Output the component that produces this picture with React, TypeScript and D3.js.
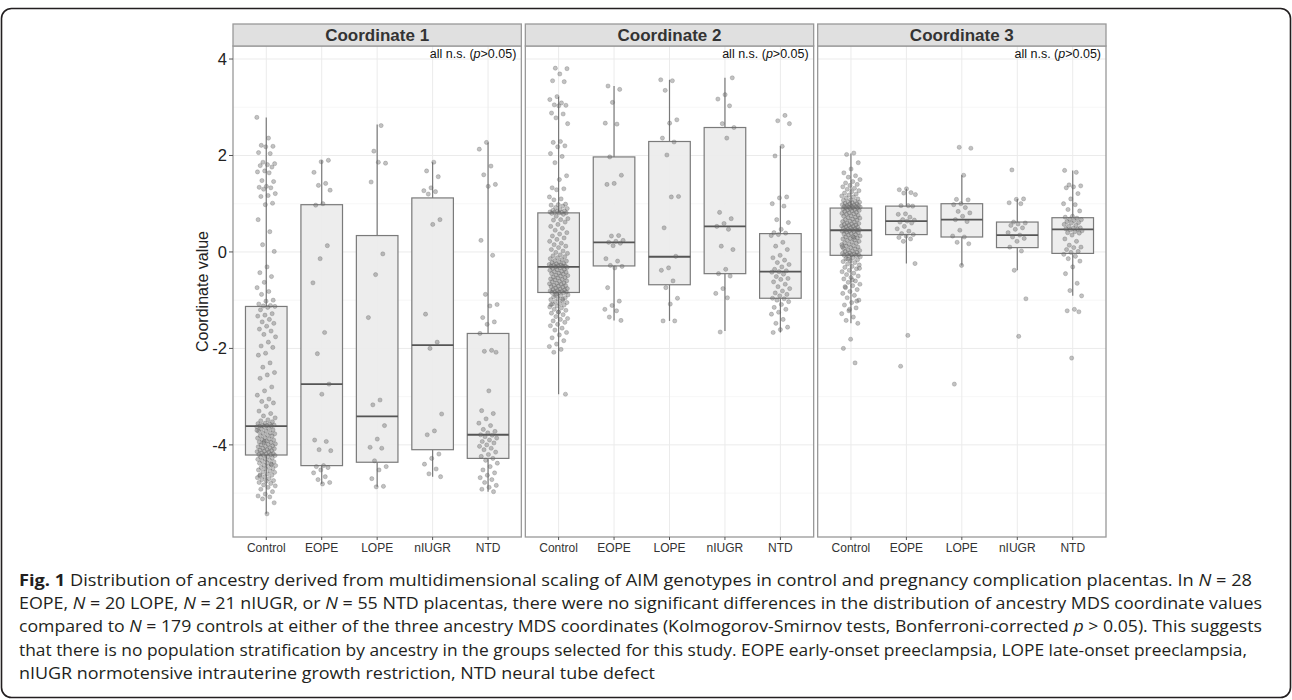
import React from "react";
import * as d3 from "d3";

const W = 1292;
const H = 700;

const coords = ["Coordinate 1", "Coordinate 2", "Coordinate 3"];
const groups = ["Control", "EOPE", "LOPE", "nIUGR", "NTD"];
const yTicks = [-4, -2, 0, 2, 4];
const yMinor = [-5, -3, -1, 1, 3];
const annotation = "all n.s. (";

// box stats per group: [lower whisker, q1, median, q3, upper whisker]
const boxC1 = [
  [-5.43, -4.21, -3.61, -1.13, 2.79],
  [-4.81, -4.43, -2.74, 0.98, 1.9],
  [-4.87, -4.36, -3.41, 0.34, 2.64],
  [-4.66, -4.1, -1.93, 1.12, 1.86],
  [-4.97, -4.28, -3.79, -1.69, 2.27],
];
const boxC2 = [
  [-2.95, -0.84, -0.31, 0.81, 3.22],
  [-1.42, -0.29, 0.2, 1.97, 3.44],
  [-1.43, -0.68, -0.1, 2.29, 3.57],
  [-1.64, -0.45, 0.53, 2.58, 3.61],
  [-1.67, -0.96, -0.41, 0.38, 2.19],
];
const boxC3 = [
  [-1.48, -0.07, 0.45, 0.91, 2.04],
  [-0.24, 0.36, 0.64, 0.95, 1.31],
  [-0.28, 0.31, 0.67, 1.0, 1.59],
  [-0.38, 0.09, 0.35, 0.62, 1.1],
  [-0.91, -0.03, 0.47, 0.71, 1.69],
];

// individual values (jittered points)
const c1Control = [
  2.79, 2.36, 2.21, 2.19, 2.18, 2.06, 2.04, 1.86, 1.83, 1.81, 1.79, 1.76, 1.68, 1.66, 1.64, 1.48, 1.46, 1.36, 1.34, 1.33,
  1.3, 1.21, 1.17, 1.15, 1.01, 0.98, 0.67, 0.42, 0.15, 0.01, -0.31, -0.43, -0.51, -0.63, -0.74, -0.82, -0.88, -1.0, -1.02,
  -1.08, -1.11, -1.12, -1.13, -1.15, -1.2, -1.28, -1.31, -1.33, -1.4, -1.45, -1.48, -1.54, -1.6, -1.64, -1.71, -1.76, -1.87,
  -1.95, -1.98, -2.1, -2.14, -2.3, -2.39, -2.5, -2.55, -2.62, -2.8, -2.88, -2.97, -3.05, -3.1, -3.13, -3.2, -3.3, -3.35,
  -3.4, -3.44, -3.48, -3.5, -3.52, -3.55, -3.56, -3.57, -3.59, -3.59, -3.6, -3.61, -3.61, -3.62, -3.63, -3.66, -3.67,
  -3.69, -3.71, -3.72, -3.75, -3.76, -3.77, -3.8, -3.81, -3.82, -3.85, -3.86, -3.88, -3.89, -3.9, -3.92, -3.94, -3.95,
  -3.96, -3.98, -3.99, -4.0, -4.02, -4.03, -4.04, -4.06, -4.07, -4.08, -4.1, -4.11, -4.12, -4.13, -4.14, -4.15, -4.17,
  -4.18, -4.19, -4.2, -4.2, -4.21, -4.22, -4.24, -4.25, -4.27, -4.29, -4.3, -4.32, -4.33, -4.35, -4.37, -4.38, -4.4,
  -4.42, -4.43, -4.45, -4.47, -4.49, -4.5, -4.52, -4.54, -4.56, -4.57, -4.6, -4.62, -4.63, -4.66, -4.68, -4.7, -4.72,
  -4.74, -4.75, -4.78, -4.8, -4.83, -4.85, -4.88, -4.92, -4.97, -5.02, -5.06, -5.08, -5.12, -5.2, -5.43, -4.64, -4.41,
  -3.93, -3.7,
];
const c1EOPE = [
  1.9, 1.87, 1.65, 1.42, 1.38, 1.28, 1.0, 0.97, 0.13, -0.14, -0.64, -1.67, -2.11, -2.74, -2.95, -3.9, -3.93, -4.1, -4.12,
  -4.43, -4.45, -4.47, -4.52, -4.58, -4.66, -4.72, -4.78, -4.81,
];
const c1LOPE = [
  2.62, 2.09, 1.84, 1.86, 1.45, -0.04, -0.47, -1.36, -3.07, -3.17, -3.6, -3.88, -4.05, -4.07, -4.33, -4.45, -4.52, -4.7,
  -4.86, -4.87,
];
const c1nIUGR = [
  1.86, 1.68, 1.56, 1.33, 1.27, 1.25, 1.2, 0.67, 0.57, -1.29, -1.87, -2.0, -3.36, -3.71, -3.79, -4.19, -4.28, -4.4, -4.5,
  -4.6, -4.66,
];
const c1NTD = [
  2.27, 2.13, 1.78, 1.6, 1.4, 1.36, 0.24, -0.07, -0.88, -1.09, -1.12, -1.36, -1.45, -1.5, -1.69, -2.04, -2.06, -2.08, -2.88,
  -3.29, -3.35, -3.46, -3.55, -3.6, -3.68, -3.72, -3.75, -3.79, -3.8, -3.83, -3.86, -3.9, -3.93, -3.96, -4.0, -4.03, -4.07,
  -4.1, -4.15, -4.2, -4.24, -4.28, -4.32, -4.38, -4.45, -4.52, -4.58, -4.63, -4.68, -4.72, -4.78, -4.84, -4.88, -4.92,
  -4.97,
];

const c2Control = [
  3.81, 3.8, 3.69, 3.55, 3.53, 3.22, 3.16, 3.09, 3.05, 3.04, 3.03, 2.88, 2.86, 2.78, 2.66, 2.29, 2.27, 2.2, 2.18, 2.04,
  1.98, 1.85, 1.58, 1.5, 1.33, 1.31, 1.29, 1.14, 1.1, 1.08, 0.99, 0.98, 0.97, 0.95, 0.92, 0.9, 0.88, 0.86, 0.85, 0.84,
  0.83, 0.82, 0.82, 0.81, 0.81, 0.8, 0.78, 0.74, 0.69, 0.67, 0.66, 0.62, 0.57, 0.53, 0.49, 0.45, 0.4, 0.37, 0.33, 0.29,
  0.26, 0.22, 0.18, 0.15, 0.12, 0.09, 0.05, 0.02, -0.01, -0.03, -0.06, -0.08, -0.1, -0.12, -0.14, -0.16, -0.18, -0.19,
  -0.21, -0.22, -0.24, -0.25, -0.26, -0.27, -0.28, -0.29, -0.29, -0.3, -0.3, -0.31, -0.32, -0.33, -0.34, -0.36, -0.37,
  -0.38, -0.4, -0.41, -0.42, -0.44, -0.45, -0.46, -0.48, -0.49, -0.5, -0.52, -0.53, -0.54, -0.56, -0.57, -0.58, -0.6,
  -0.61, -0.62, -0.64, -0.65, -0.66, -0.67, -0.69, -0.7, -0.71, -0.72, -0.73, -0.75, -0.76, -0.77, -0.78, -0.79, -0.8,
  -0.81, -0.82, -0.83, -0.83, -0.84, -0.84, -0.85, -0.87, -0.89, -0.91, -0.93, -0.95, -0.97, -0.99, -1.01, -1.03, -1.05,
  -1.07, -1.08, -1.1, -1.12, -1.14, -1.16, -1.19, -1.21, -1.24, -1.27, -1.3, -1.34, -1.38, -1.4, -1.43, -1.46, -1.5,
  -1.53, -1.58, -1.62, -1.67, -1.72, -1.78, -1.84, -1.91, -1.96, -2.02, -2.08, -2.95, -1.25, -1.09, -0.98, -0.9,
];
const c2EOPE = [
  3.44, 3.37, 3.1, 2.67, 2.65, 1.97, 1.59, 1.42, 1.4, 0.34, 0.33, 0.24, 0.22, 0.2, 0.18, 0.13, -0.14, -0.19, -0.28, -0.3,
  -0.33, -0.74, -1.02, -1.11, -1.19, -1.22, -1.35, -1.42,
];
const c2LOPE = [
  3.57, 3.55, 3.35, 2.74, 2.67, 2.36, 2.28, 2.01, 1.15, 1.14, 0.5, -0.09, -0.33, -0.38, -0.6, -0.74, -0.96, -1.08, -1.43,
  -1.43,
];
const c2nIUGR = [
  3.61, 3.26, 3.17, 3.03, 2.66, 2.58, 2.36, 0.82, 0.69, 0.59, 0.53, 0.47, 0.12, 0.05, -0.36, -0.45, -0.5, -0.76, -0.86,
  -0.95, -1.66,
];
const c2NTD = [
  2.83, 2.72, 2.66, 2.19, 1.99, 1.14, 1.12, 1.0, 0.95, 0.67, 0.61, 0.47, 0.4, 0.39, 0.36, 0.34, 0.2, 0.12, 0.05, -0.07,
  -0.12, -0.17, -0.22, -0.26, -0.31, -0.36, -0.39, -0.41, -0.42, -0.46, -0.51, -0.55, -0.57, -0.62, -0.67, -0.72, -0.76,
  -0.81, -0.85, -0.88, -0.91, -0.96, -0.97, -1.0, -1.03, -1.09, -1.15, -1.19, -1.25, -1.29, -1.4, -1.48, -1.56, -1.61,
  -1.67,
];

const c3Control = [
  2.05, 2.02, 1.85, 1.72, 1.64, 1.58, 1.55, 1.5, 1.46, 1.43, 1.4, 1.38, 1.35, 1.32, 1.3, 1.27, 1.25, 1.22, 1.2, 1.18,
  1.16, 1.14, 1.12, 1.1, 1.08, 1.07, 1.05, 1.04, 1.03, 1.02, 1.01, 1.0, 0.99, 0.98, 0.97, 0.96, 0.96, 0.95, 0.94, 0.94,
  0.93, 0.93, 0.92, 0.92, 0.91, 0.9, 0.89, 0.88, 0.87, 0.86, 0.85, 0.84, 0.82, 0.81, 0.8, 0.79, 0.78, 0.76, 0.75, 0.74,
  0.72, 0.71, 0.7, 0.68, 0.67, 0.66, 0.64, 0.63, 0.62, 0.6, 0.59, 0.58, 0.57, 0.56, 0.55, 0.54, 0.53, 0.52, 0.51, 0.5,
  0.49, 0.48, 0.47, 0.46, 0.46, 0.45, 0.45, 0.44, 0.43, 0.42, 0.41, 0.4, 0.38, 0.37, 0.36, 0.35, 0.33, 0.32, 0.31, 0.29,
  0.28, 0.27, 0.25, 0.24, 0.22, 0.21, 0.19, 0.18, 0.16, 0.15, 0.13, 0.12, 0.1, 0.09, 0.07, 0.06, 0.04, 0.03, 0.02, 0.01,
  -0.01, -0.02, -0.03, -0.04, -0.05, -0.06, -0.06, -0.07, -0.07, -0.08, -0.1, -0.12, -0.14, -0.16, -0.18, -0.2, -0.22,
  -0.25, -0.27, -0.3, -0.32, -0.35, -0.38, -0.41, -0.44, -0.47, -0.5, -0.53, -0.56, -0.6, -0.63, -0.67, -0.7, -0.74,
  -0.78, -0.82, -0.86, -0.9, -0.95, -1.0, -1.05, -1.1, -1.16, -1.22, -1.28, -1.35, -1.42, -1.48, -1.81, -2.0, -2.3,
  -0.15, -0.34, -0.58, -0.72, -1.02, -1.19, 0.11, 0.3,
];
const c3EOPE = [
  1.31, 1.29, 1.23, 1.22, 1.19, 0.96, 0.96, 0.95, 0.79, 0.78, 0.72, 0.67, 0.66, 0.64, 0.62, 0.6, 0.53, 0.48, 0.43, 0.38,
  0.36, 0.33, 0.3, 0.27, 0.22, -0.24, -1.73, -2.37,
];
const c3LOPE = [
  2.17, 2.15, 1.59, 1.09, 1.08, 1.0, 0.98, 0.92, 0.84, 0.81, 0.74, 0.67, 0.63, 0.45, 0.33, 0.31, 0.2, 0.17, -0.28, -2.74,
];
const c3nIUGR = [
  1.7, 1.1, 1.09, 1.02, 1.0, 0.62, 0.6, 0.58, 0.55, 0.5, 0.47, 0.4, 0.35, 0.31, 0.28, 0.22, 0.1, 0.02, -0.38, -0.97,
  -1.75,
];
const c3NTD = [
  1.69, 1.65, 1.39, 1.37, 1.35, 1.33, 1.21, 1.1, 1.0, 0.98, 0.88, 0.85, 0.74, 0.72, 0.7, 0.68, 0.67, 0.65, 0.63, 0.61,
  0.6, 0.57, 0.55, 0.53, 0.5, 0.49, 0.48, 0.47, 0.46, 0.44, 0.42, 0.4, 0.39, 0.35, 0.27, 0.22, 0.14, 0.1, 0.09, 0.05,
  0.01, -0.01, -0.05, -0.09, -0.14, -0.19, -0.31, -0.45, -0.65, -0.8, -0.91, -1.19, -1.22, -1.24, -2.2,
];

const boxes = [boxC1, boxC2, boxC3];
const points = [
  [c1Control, c1EOPE, c1LOPE, c1nIUGR, c1NTD],
  [c2Control, c2EOPE, c2LOPE, c2nIUGR, c2NTD],
  [c3Control, c3EOPE, c3LOPE, c3nIUGR, c3NTD],
];

type Seg = [string, string?];
const captionLines: Seg[][] = [
  [
    ["Fig. 1", "b"],
    [" Distribution of ancestry derived from multidimensional scaling of AIM genotypes in control and pregnancy complication placentas. In "],
    ["N", "i"],
    [" = 28"],
  ],
  [
    ["EOPE, "],
    ["N", "i"],
    [" = 20 LOPE, "],
    ["N", "i"],
    [" = 21 nIUGR, or "],
    ["N", "i"],
    [" = 55 NTD placentas, there were no significant differences in the distribution of ancestry MDS coordinate values"],
  ],
  [
    ["compared to "],
    ["N", "i"],
    [" = 179 controls at either of the three ancestry MDS coordinates (Kolmogorov-Smirnov tests, Bonferroni-corrected "],
    ["p", "i"],
    [" > 0.05). This suggests"],
  ],
  [["that there is no population stratification by ancestry in the groups selected for this study. EOPE early-onset preeclampsia, LOPE late-onset preeclampsia,"]],
  [["nIUGR normotensive intrauterine growth restriction, NTD neural tube defect"]],
];
const captionWidths = [1233, 1243, 1243, 1228, 636];

const FONT = "'Liberation Sans', Arial, Helvetica, sans-serif";
const CAPFONT = "'Open Sans', 'Noto Sans', sans-serif";

export default function App() {
  React.useEffect(() => {
    document.body.style.margin = "0";
  }, []);

  const plotTop = 46;
  const plotBottom = 537;
  const stripTop = 24;

  const facet = d3.scaleBand<string>().domain(coords).range([233, 1106]).paddingInner(0.0137);
  const bw = facet.bandwidth();
  const x = d3.scalePoint<string>().domain(groups).range([0, bw]).padding(0.6);
  const step = x.step();
  const boxW = step * 0.75;
  const jw = step * 0.17;
  const y = d3.scaleLinear().domain([-5.91, 4.27]).range([plotBottom, plotTop]);

  const gridMajor = "#ebebeb";
  const gridMinor = "#f5f5f5";
  const boxStroke = "#7a7a7a";

  return (
    <svg width={W} height={H} style={{ position: "absolute", left: 0, top: 0, background: "#fff" }}>
      <rect x={1.5} y={8.5} width={1289} height={689} rx={10} fill="none" stroke="#231f20" strokeWidth={1.6} />

      {coords.map((c, ci) => {
        const px = facet(c)!;
        return (
          <g key={c} transform={`translate(${px},0)`}>
            <rect x={0} y={plotTop} width={bw} height={plotBottom - plotTop} fill="#fff" />
            {yMinor.map((v) => (
              <line key={"mn" + v} x1={0} x2={bw} y1={y(v)} y2={y(v)} stroke={gridMinor} strokeWidth={0.8} />
            ))}
            {yTicks.map((v) => (
              <line key={"mj" + v} x1={0} x2={bw} y1={y(v)} y2={y(v)} stroke={gridMajor} strokeWidth={1} />
            ))}
            {groups.map((g) => (
              <line key={"gx" + g} x1={x(g)} x2={x(g)} y1={plotTop} y2={plotBottom} stroke={gridMajor} strokeWidth={1} />
            ))}
            {groups.map((g, gi) => {
              const [lw, q1, md, q3, uw] = boxes[ci][gi];
              const cx = x(g)!;
              return (
                <g key={"b" + g}>
                  <line x1={cx} x2={cx} y1={y(q3)} y2={y(uw)} stroke={boxStroke} strokeWidth={1.2} />
                  <line x1={cx} x2={cx} y1={y(q1)} y2={y(lw)} stroke={boxStroke} strokeWidth={1.2} />
                  <rect
                    x={cx - boxW / 2}
                    y={y(q3)}
                    width={boxW}
                    height={y(q1) - y(q3)}
                    fill="#ebebeb"
                    fillOpacity={0.92}
                    stroke={boxStroke}
                    strokeWidth={1.2}
                  />
                  <line x1={cx - boxW / 2} x2={cx + boxW / 2} y1={y(md)} y2={y(md)} stroke="#555" strokeWidth={1.8} />
                </g>
              );
            })}
            {groups.map((g, gi) =>
              points[ci][gi].map((v, i) => {
                const off = ((((i + gi * 3 + ci * 7) * 0.6180339887) % 1) - 0.5) * 2 * jw;
                return (
                  <circle
                    key={g + i}
                    cx={x(g)! + off}
                    cy={y(v)}
                    r={2.1}
                    fill="#6e6e6e"
                    fillOpacity={0.42}
                    stroke="#555"
                    strokeOpacity={0.42}
                    strokeWidth={0.6}
                  />
                );
              })
            )}
            <rect x={0} y={plotTop} width={bw} height={plotBottom - plotTop} fill="none" stroke="#999" strokeWidth={1.3} />
            <rect x={0} y={stripTop} width={bw} height={plotTop - stripTop} fill="#e0e0e0" stroke="#999" strokeWidth={1.3} />
            <text
              x={bw / 2}
              y={(stripTop + plotTop) / 2 + 6}
              textAnchor="middle"
              fontFamily={FONT}
              fontWeight="bold"
              fontSize={17}
              fill="#333"
            >
              {c}
            </text>
            <text x={bw - 5} y={58} textAnchor="end" fontFamily={FONT} fontSize={12.5} fill="#111">
              {annotation}
              <tspan fontStyle="italic">p</tspan>
              {">0.05)"}
            </text>
            {groups.map((g) => (
              <g key={"xt" + g}>
                <line x1={x(g)} x2={x(g)} y1={plotBottom} y2={plotBottom + 3} stroke="#555" strokeWidth={1} />
                <text x={x(g)} y={552} textAnchor="middle" fontFamily={FONT} fontSize={12} fill="#333">
                  {g}
                </text>
              </g>
            ))}
          </g>
        );
      })}

      {yTicks.map((v) => (
        <g key={"yt" + v}>
          <line x1={229} x2={233} y1={y(v)} y2={y(v)} stroke="#555" strokeWidth={1} />
          <text x={227} y={y(v) + 6} textAnchor="end" fontFamily={FONT} fontSize={16.5} fill="#222">
            {String(v)}
          </text>
        </g>
      ))}
      <text
        transform={`translate(208,${(plotTop + plotBottom) / 2}) rotate(-90)`}
        textAnchor="middle"
        fontFamily={FONT}
        fontSize={16}
        fill="#222"
      >
        Coordinate value
      </text>

      {captionLines.map((line, li) => (
        <text
          key={"cap" + li}
          x={19}
          y={586 + li * 23.2}
          fontFamily={CAPFONT}
          fontSize={16.5}
          fill="#231f20"
          textLength={captionWidths[li]}
          lengthAdjust="spacingAndGlyphs"
        >
          {line.map((s, si) => (
            <tspan
              key={si}
              fontWeight={s[1] === "b" ? "bold" : "normal"}
              fontStyle={s[1] === "i" ? "italic" : "normal"}
            >
              {s[0]}
            </tspan>
          ))}
        </text>
      ))}
    </svg>
  );
}
